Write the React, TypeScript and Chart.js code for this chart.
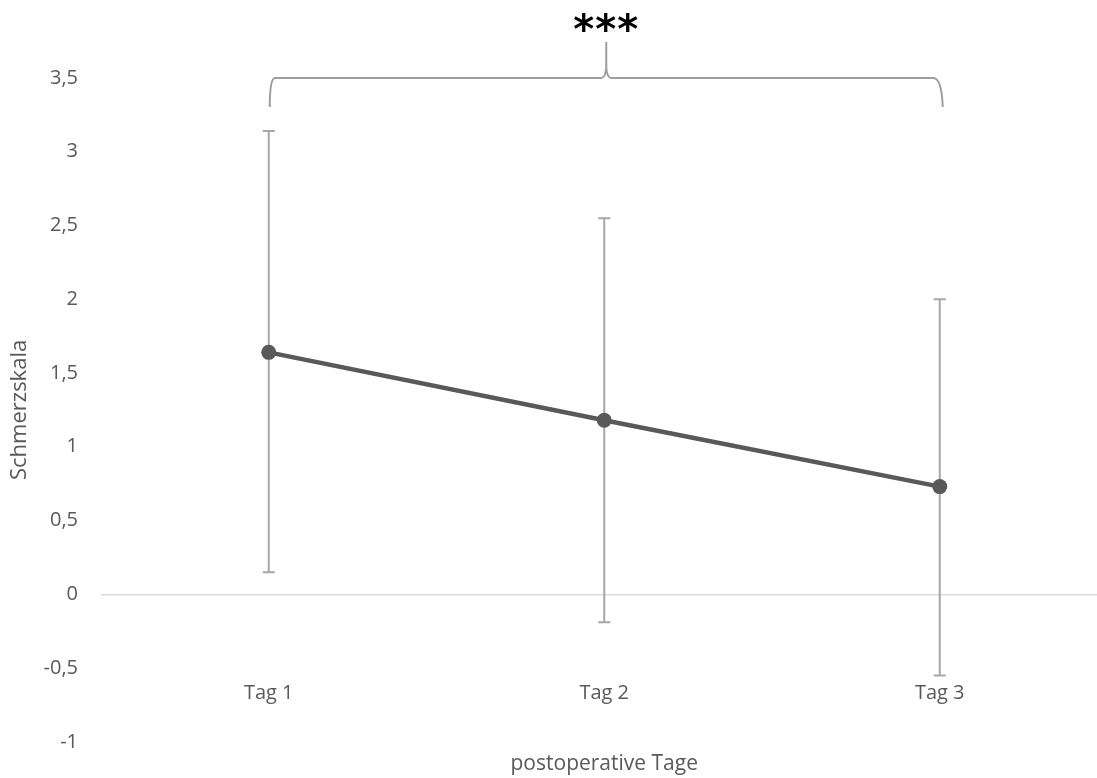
import React, { useEffect, useRef } from "react";
import { Chart, registerables } from "chart.js";

Chart.register(...registerables);

const categories = ["Tag 1", "Tag 2", "Tag 3"];
const means = [1.64, 1.18, 0.73];
const errLow = [0.15, -0.19, -0.55];
const errHigh = [3.14, 2.55, 2.0];
const yMin = -1;
const yMax = 3.5;
const yStep = 0.5;
const significance = "***";
const xTitle = "postoperative Tage";
const yTitle = "Schmerzskala";

const FONT = "'Open Sans', 'DejaVu Sans', sans-serif";
const TEXT = "#595959";

const errorBarPlugin = {
  id: "errorBars",
  beforeDatasetsDraw(chart: any) {
    const { ctx, scales } = chart;
    const x = scales.x;
    const y = scales.y;
    ctx.save();
    ctx.strokeStyle = "#a6a6a6";
    ctx.lineWidth = 2;
    for (let i = 0; i < categories.length; i++) {
      const px = x.getPixelForValue(i);
      const top = y.getPixelForValue(errHigh[i]);
      const bot = y.getPixelForValue(errLow[i]);
      ctx.beginPath();
      ctx.moveTo(px, top);
      ctx.lineTo(px, bot);
      ctx.moveTo(px - 6, top);
      ctx.lineTo(px + 6, top);
      ctx.moveTo(px - 6, bot);
      ctx.lineTo(px + 6, bot);
      ctx.stroke();
    }
    ctx.restore();
  },
};

const bracePlugin = {
  id: "brace",
  afterDraw(chart: any) {
    const { ctx, scales, chartArea } = chart;
    const x = scales.x;
    const l = x.getPixelForValue(0);
    const r = x.getPixelForValue(categories.length - 1);
    const c = (l + r) / 2 + 2;
    const t = chartArea.top;
    ctx.save();
    ctx.strokeStyle = "#9e9e9e";
    ctx.lineWidth = 2;
    ctx.beginPath();
    ctx.moveTo(l + 1, t + 29);
    ctx.quadraticCurveTo(l + 1, t + 1, l + 6, t);
    ctx.lineTo(c - 5, t);
    ctx.quadraticCurveTo(c - 1, t, c, t - 10);
    ctx.lineTo(c, t - 36);
    ctx.moveTo(c, t - 10);
    ctx.quadraticCurveTo(c + 1, t, c + 5, t);
    ctx.lineTo(r - 6, t);
    ctx.quadraticCurveTo(r + 2, t + 1, r + 3, t + 29);
    ctx.stroke();

    ctx.fillStyle = "#000000";
    ctx.font = "bold 40px 'DejaVu Sans', sans-serif";
    ctx.textAlign = "center";
    ctx.textBaseline = "alphabetic";
    (ctx as any).letterSpacing = "1px";
    const m = ctx.measureText(significance);
    const baseline = 22 + (m.actualBoundingBoxAscent - m.actualBoundingBoxDescent) / 2;
    ctx.fillText(significance, c, baseline);
    ctx.restore();
  },
};

export default function App() {
  const ref = useRef<HTMLCanvasElement>(null);

  useEffect(() => {
    if (!ref.current) return;
    const chart = new Chart(ref.current, {
      type: "line",
      data: {
        labels: categories,
        datasets: [
          {
            data: means,
            borderColor: "#595959",
            backgroundColor: "#595959",
            borderWidth: 4.5,
            pointRadius: 7.5,
            pointBorderWidth: 0,
            pointBackgroundColor: "#595959",
            tension: 0,
          },
        ],
      },
      options: {
        animation: false,
        responsive: false,
        layout: { padding: { top: 78, left: 0, right: 2, bottom: 0 } },
        plugins: {
          legend: { display: false },
          tooltip: { enabled: false },
          title: {
            display: true,
            position: "bottom",
            fullSize: false,
            text: xTitle,
            color: TEXT,
            font: { family: FONT, size: 21, weight: "normal" },
            padding: { top: 10, bottom: 1 },
          },
        },
        scales: {
          x: {
            type: "category",
            position: { y: -0.5 } as any,
            offset: true,
            grid: { display: false, drawTicks: false },
            border: { display: false },
            ticks: {
              color: TEXT,
              font: { family: FONT, size: 20 },
              padding: 13,
              maxRotation: 0,
            },
          },
          y: {
            min: yMin,
            max: yMax,
            afterFit(scale: any) {
              scale.width = 101;
            },
            grid: {
              drawTicks: false,
              lineWidth: 1.5,
              color: (c: any) => (c.tick && c.tick.value === 0 ? "#d9d9d9" : "rgba(0,0,0,0)"),
            },
            border: { display: false },
            ticks: {
              stepSize: yStep,
              color: TEXT,
              padding: 23,
              font: { family: FONT, size: 20 },
              callback: (v: any) => String(Number(v)).replace(".", ","),
            },
            title: {
              display: true,
              text: yTitle,
              color: TEXT,
              font: { family: FONT, size: 22 },
              padding: { top: 7, bottom: 0 },
            },
          },
        },
      },
      plugins: [errorBarPlugin, bracePlugin],
    });
    return () => chart.destroy();
  }, []);

  return (
    <div
      style={{
        position: "absolute",
        left: 0,
        top: 0,
        width: 1097,
        height: 778,
        overflow: "hidden",
        background: "#ffffff",
      }}
    >
      <canvas ref={ref} width={1115} height={778} style={{ display: "block" }} />
    </div>
  );
}
